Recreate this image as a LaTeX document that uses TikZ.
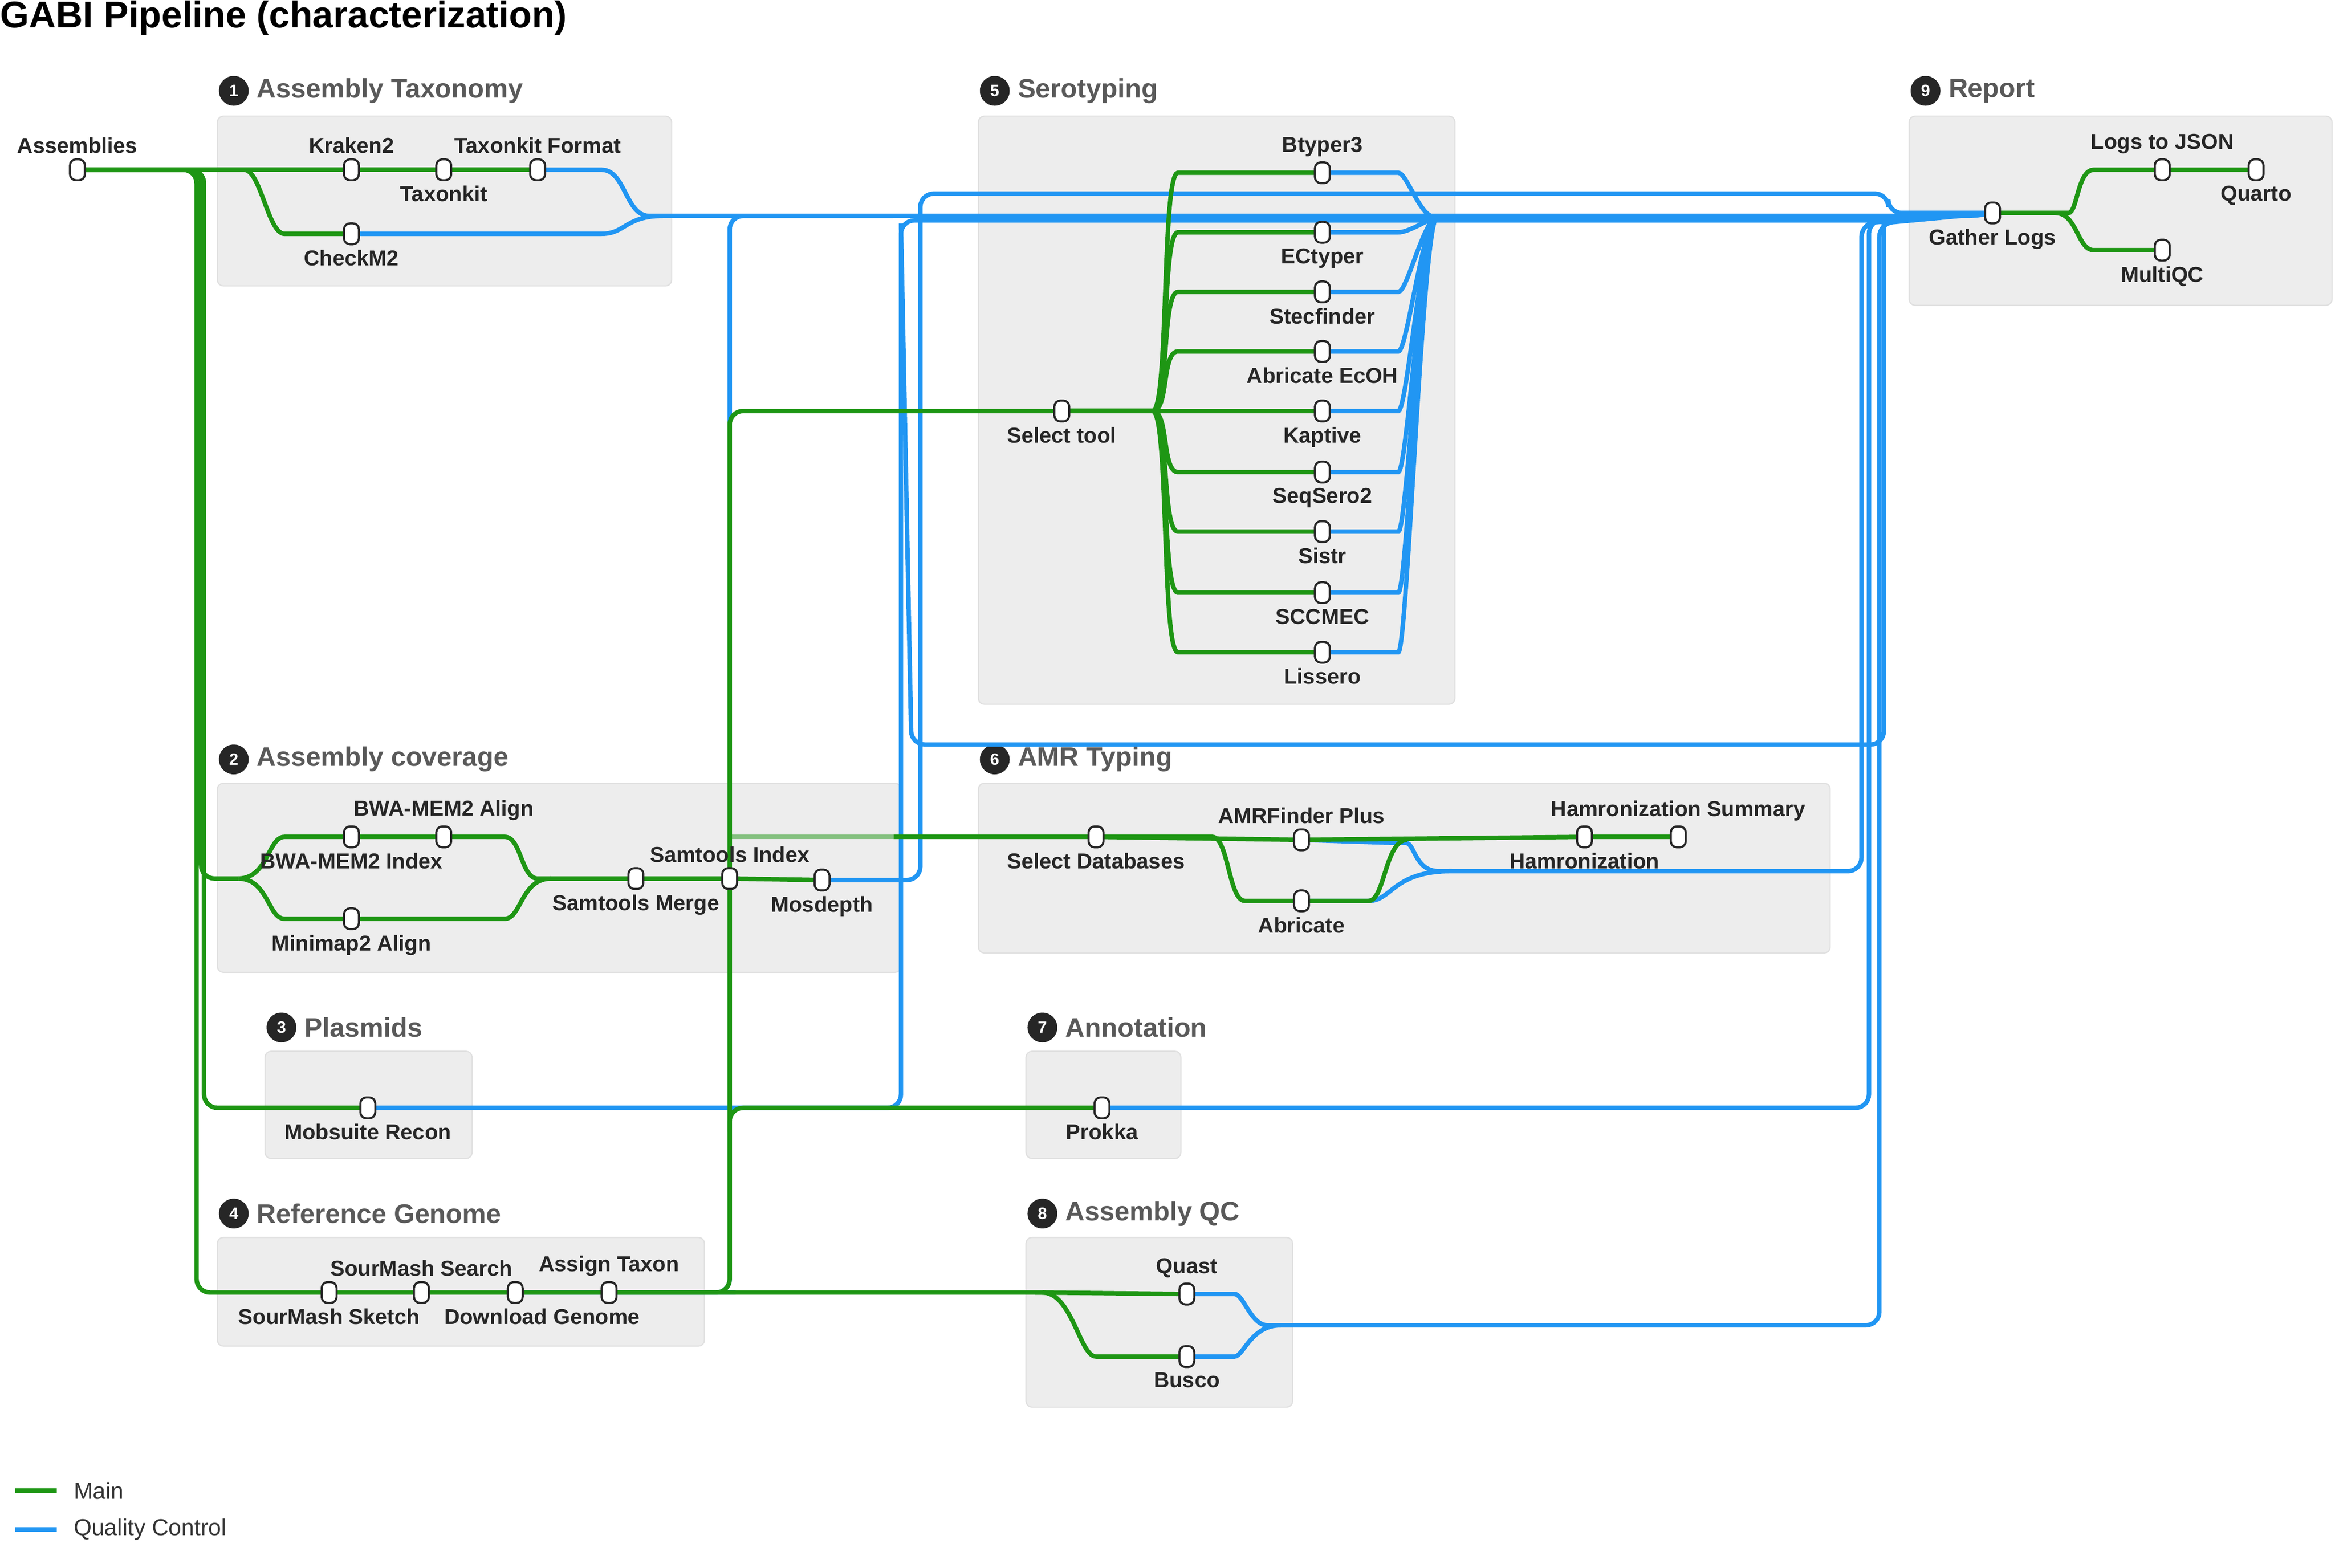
\documentclass[tikz,border=0pt]{standalone}
\usepackage{fontspec}
\setmainfont{Liberation Sans}
\begin{document}
\begin{tikzpicture}[x=1pt,y=-1pt,
  box/.style={fill=black!7,draw=black!12,line width=0.8pt,rounded corners=4pt},
  hdr/.style={anchor=west,text=black!65,font=\fontsize{18}{20}\selectfont\bfseries},
  num/.style={circle,fill=black!85,text=white,inner sep=0pt,minimum size=20pt,font=\fontsize{11}{12}\selectfont\bfseries},
  st/.style={draw=black!85,fill=white,line width=1.4pt,rounded corners=4pt,minimum width=10pt,minimum height=14pt,inner sep=0pt},
  lb/.style={font=\fontsize{14.5}{16}\selectfont\bfseries,text=black!85,inner sep=1pt},
  G/.style={draw={rgb,255:red,30;green,150;blue,20},line width=3pt,rounded corners=9pt},
  B/.style={draw={rgb,255:red,33;green,150;blue,243},line width=3pt,rounded corners=9pt}]
\useasboundingbox (0,0) rectangle (1568,1053);
\node[anchor=west,font=\fontsize{25}{27}\selectfont\bfseries,inner sep=0pt] (title) at (0,12) {GABI Pipeline (characterization)};
% boxes
\draw[box] (146,78) rectangle (451,192);
\draw[box] (657,78) rectangle (977,473);
\draw[box] (1282,78) rectangle (1566,205);
\draw[box] (146,526) rectangle (605,653);
\draw[box] (657,526) rectangle (1229,640);
\draw[box] (178,706) rectangle (317,778);
\draw[box] (689,706) rectangle (793,778);
\draw[box] (146,831) rectangle (473,904);
\draw[box] (689,831) rectangle (868,945);
\foreach \n/\x/\y/\t in {1/157/61/Assembly Taxonomy,5/668/61/Serotyping,9/1293/61/Report,2/157/510/Assembly coverage,6/668/510/AMR Typing,3/189/690/Plasmids,7/700/690/Annotation,4/157/815/Reference Genome,8/700/815/Assembly QC}{
  \node[num] (n\n) at (\x,\y) {\n};
  \node[hdr] (h\n) at (\x+12,\y) {\t};}
% coordinates
\coordinate (asm) at (52,114);
\coordinate (kr) at (236,114); \coordinate (tk) at (298,114); \coordinate (tkf) at (361,114); \coordinate (cm) at (236,157);
\coordinate (bt) at (888,116); \coordinate (ec) at (888,156); \coordinate (sf) at (888,196); \coordinate (ae) at (888,236);
\coordinate (kp) at (888,276); \coordinate (ss) at (888,317); \coordinate (si) at (888,357); \coordinate (sc) at (888,398); \coordinate (li) at (888,438);
\coordinate (sel) at (713,276);
\coordinate (gl) at (1338,143); \coordinate (lj) at (1452,114); \coordinate (qu) at (1515,114); \coordinate (mq) at (1452,168);
\coordinate (bi) at (236,562); \coordinate (ba) at (298,562); \coordinate (mm) at (236,617);
\coordinate (sm) at (427,590); \coordinate (six) at (490,590); \coordinate (md) at (552,591);
\coordinate (sd) at (736,562); \coordinate (af) at (874,564); \coordinate (ab) at (874,605); \coordinate (hz) at (1064,562); \coordinate (hs) at (1127,562);
\coordinate (mr) at (247,744); \coordinate (pk) at (740,744);
\coordinate (msk) at (221,868); \coordinate (mse) at (283,868); \coordinate (dg) at (346,868); \coordinate (at) at (409,868);
\coordinate (qt) at (797,869); \coordinate (bu) at (797,911);
\coordinate (hub) at (965,145);
% blue lines
\draw[B] (tkf) -- (395,114) .. controls (420,114) and (420,145) .. (445,145) -- (1330,145) -- (gl);
\draw[B] (cm) -- (395,157) .. controls (420,157) and (420,145) .. (445,145);
\foreach \p in {bt,ec,sf,ae,kp,ss,si,sc,li}{\draw[B] (\p) -- (930,0 |- \p) .. controls (945,0 |- \p) and (955,150) .. (hub);}
\draw[B] (md) -- (618,591) -- (618,130) -- (1268,130) -- (1268,143) -- (gl);
\draw[B] (605,150) -- (612,500) -- (1265,500) -- (1265,150);
\draw[B] (mr) -- (605,744) -- (605,148) -- (1262,148) -- (gl);
\draw[B] (dg) -- (485,868) -- (490,868) -- (490,145) -- (600,145);
\draw[B] (pk) -- (1255,744) -- (1255,148) -- (gl);
\draw[B] (qt) -- (820,869) .. controls (835,869) and (840,890) .. (860,890) -- (1262,890) -- (1262,150) -- (gl);
\draw[B] (bu) -- (820,911) .. controls (835,911) and (840,890) .. (860,890);
\draw[B] (af) -- (935,566) .. controls (950,566) and (950,585) .. (975,585) -- (1250,585) -- (1250,150) -- (gl);
\draw[B] (ab) -- (910,605) .. controls (935,605) and (935,585) .. (975,585);
% green lines
\draw[G] (asm) -- (kr) -- (tk) -- (tkf);
\draw[G] (asm) -- (155,114) .. controls (175,114) and (180,157) .. (200,157) -- (cm);
\draw[G] (asm) -- (132,114) -- (132,868) -- (msk) -- (mse) -- (dg) -- (at) -- (700,868) -- (qt);
\draw[G] (asm) -- (137,114) -- (137,744) -- (mr);
\draw[G] (asm) -- (135,114) -- (135,590) -- (160,590);
\draw[G] (700,868) .. controls (720,868) and (725,911) .. (745,911) -- (bu);
\draw[G] (at) -- (490,868) -- (490,744) -- (pk);
\draw[G] (490,760) -- (490,276) -- (sel);
\draw[G,draw opacity=0.5] (490,562) -- (600,562);
\draw[G] (600,562) -- (sd) -- (af) -- (hz) -- (hs);
\draw[G] (sd) -- (805,562) .. controls (825,562) and (825,605) .. (845,605) -- (ab);
\draw[G] (ab) -- (910,605) .. controls (930,605) and (930,564) .. (945,564);
\draw[G] (160,590) .. controls (180,590) and (180,562) .. (200,562) -- (bi) -- (ba) -- (330,562) .. controls (350,562) and (350,590) .. (370,590) -- (sm) -- (six) -- (md);
\draw[G] (160,590) .. controls (180,590) and (180,617) .. (200,617) -- (mm) -- (330,617) .. controls (350,617) and (350,590) .. (370,590);
\foreach \p in {bt,ec,sf,ae,kp,ss,si,sc,li}{\draw[G] (sel) -- (765,276) .. controls (785,276) and (780,0 |- \p) .. (800,0 |- \p) -- (\p);}
\draw[G] (gl) -- (1380,143) .. controls (1395,143) and (1395,114) .. (1415,114) -- (lj) -- (qu);
\draw[G] (1380,143) .. controls (1395,143) and (1395,168) .. (1415,168) -- (mq);
% stations
\foreach \c/\t/\d in {asm/Assemblies/above,kr/Kraken2/above,tk/Taxonkit/below,tkf/Taxonkit Format/above,cm/CheckM2/below,
 bt/Btyper3/above,ec/ECtyper/below,sf/Stecfinder/below,ae/Abricate EcOH/below,kp/Kaptive/below,ss/SeqSero2/below,si/Sistr/below,sc/SCCMEC/below,li/Lissero/below,sel/Select tool/below,
 gl/Gather Logs/below,lj/Logs to JSON/above,qu/Quarto/below,mq/MultiQC/below,
 bi/BWA-MEM2 Index/below,ba/BWA-MEM2 Align/above,mm/Minimap2 Align/below,sm/Samtools Merge/below,six/Samtools Index/above,md/Mosdepth/below,
 sd/Select Databases/below,af/AMRFinder Plus/above,ab/Abricate/below,hz/Hamronization/below,hs/Hamronization Summary/above,
 mr/Mobsuite Recon/below,pk/Prokka/below,msk/SourMash Sketch/below,mse/SourMash Search/above,at/Assign Taxon/above,
 qt/Quast/above,bu/Busco/below}{
  \node[st,label={[lb,label distance=2pt]\d:\t}] (s\c) at (\c) {};}
\node[st,label={[lb,label distance=2pt,xshift=18pt]below:Download Genome}] (sdg) at (dg) {};
% legend
\coordinate (l1a) at (10,1001); \coordinate (l1b) at (38,1001);
\coordinate (l2a) at (10,1027); \coordinate (l2b) at (38,1027);
\draw[G] (l1a) -- (l1b); \draw[B] (l2a) -- (l2b);
\node[anchor=west,font=\fontsize{15.5}{17}\selectfont,text=black!80] (lm) at (46,1001) {Main};
\node[anchor=west,font=\fontsize{15.5}{17}\selectfont,text=black!80] (lq) at (46,1027) {Quality Control};
\end{tikzpicture}
\end{document}
